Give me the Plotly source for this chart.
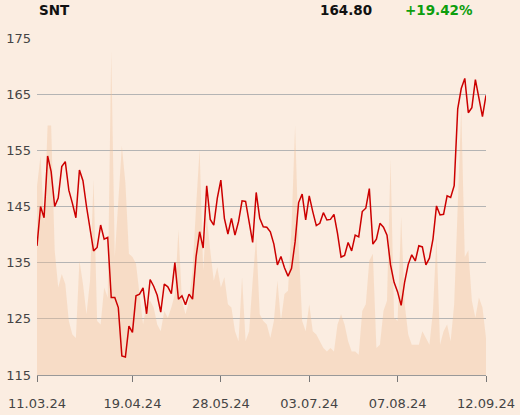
import pandas as pd
import plotly.graph_objects as go

# Warsaw trading days 11.03.24 - 12.09.24
holidays = ['2024-03-29', '2024-04-01', '2024-05-01', '2024-05-03', '2024-05-30', '2024-08-15']
days = pd.bdate_range('2024-03-11', '2024-09-12', freq='C', holidays=holidays)
dates = [d.strftime('%Y-%m-%d') for d in days]

price = [
    138.0, 145.0, 143.0, 154.0, 151.2, 145.0, 146.5, 152.1, 153.0, 147.9,
    145.6, 143.0, 151.5, 149.6, 145.0, 140.8, 137.1, 137.7, 141.7, 139.2,
    139.5, 128.8, 128.8, 127.0, 118.4, 118.2, 123.7, 122.6, 129.1, 129.4,
    130.5, 125.9, 132.0, 130.8, 129.2, 126.2, 131.2, 130.7, 129.5, 135.0,
    128.5, 129.1, 127.5, 129.4, 128.5, 136.1, 140.5, 137.6, 148.7, 142.7,
    141.7, 146.5, 149.7, 142.9, 140.1, 142.9, 139.9, 142.3, 146.0, 145.9,
    142.6, 138.6, 147.5, 142.9, 141.4, 141.3, 140.5, 138.3, 134.6, 136.1,
    134.1, 132.6, 134.0, 138.7, 145.7, 147.2, 142.6, 146.9, 144.1, 141.6,
    142.0, 143.9, 142.6, 142.7, 143.6, 140.2, 136.0, 136.3, 138.6, 137.1,
    139.9, 139.6, 144.1, 144.7, 148.2, 138.3, 139.2, 142.0, 141.3, 139.9,
    134.6, 131.5, 129.8, 127.4, 131.6, 134.7, 136.4, 135.3, 138.0, 137.8,
    134.6, 135.8, 139.2, 145.1, 143.5, 143.6, 146.9, 146.6, 148.7, 162.4,
    166.0, 167.8, 161.7, 162.6, 167.6, 164.4, 161.0, 164.8,
]

# relative traded volume (arbitrary units)
volume = [
    56, 65, 45, 74, 74, 37, 26, 30, 27, 16,
    12, 11, 34, 27, 18, 28, 58, 16, 15, 26,
    23, 96, 35, 52, 68, 57, 36, 35, 33, 24,
    15, 21, 22, 20, 15, 13, 19, 17, 20, 24,
    43, 22, 18, 22, 31, 50, 67, 31, 47, 37,
    28, 32, 26, 29, 21, 20, 13, 10, 29, 10,
    13, 28, 41, 18, 16, 15, 11, 16, 28, 16,
    24, 25, 44, 74, 39, 16, 13, 21, 13, 12,
    10, 8, 7, 8, 7, 15, 18, 15, 10, 7,
    7, 6, 19, 21, 34, 36, 8, 9, 19, 22,
    64, 17, 16, 47, 21, 12, 9, 9, 9, 13,
    11, 9, 19, 41, 9, 13, 15, 10, 21, 53,
    79, 35, 37, 22, 17, 23, 20, 11,
]

assert len(dates) == len(price) == len(volume)

tick_dates = ['2024-03-11', '2024-04-19', '2024-05-28', '2024-07-03', '2024-08-07', '2024-09-12']
tick_labels = ['11.03.24', '19.04.24', '28.05.24', '03.07.24', '07.08.24', '12.09.24']
price_ticks = [115, 125, 135, 145, 155, 165, 175]

symbol = 'SNT'
change = (price[-1] / price[0] - 1) * 100

bg = '#fbede1'
font = 'DejaVu Sans'

fig = go.Figure()
fig.add_trace(
    go.Scatter(
        x=dates, y=volume, yaxis='y',
        mode='lines', line=dict(width=0),
        fill='tozeroy', fillcolor='rgba(240,190,150,0.36)',
        hoverinfo='skip'
    )
)
fig.add_trace(
    go.Scatter(
        x=dates, y=price, yaxis='y2',
        mode='lines', line=dict(color='#cc0000', width=1.5)
    )
)

fig.update_layout(
    width=520,
    height=415,
    margin=dict(l=37, r=34, t=38, b=40),
    paper_bgcolor=bg,
    plot_bgcolor=bg,
    showlegend=False,
    font=dict(family=font, size=13, color='#444444'),
    xaxis=dict(
        type='category',
        range=[0, len(dates) - 1],
        tickvals=tick_dates,
        ticktext=tick_labels,
        showgrid=False,
        showline=True,
        linecolor='#999999',
        ticks='outside',
        ticklen=6,
        tickcolor='#777777',
        ticklabelstandoff=10,
        tickfont=dict(size=13, color='#444444'),
        automargin=False,
    ),
    yaxis=dict(range=[0, 100], visible=False, fixedrange=True, automargin=False),
    yaxis2=dict(
        overlaying='y',
        side='left',
        range=[115, 175],
        tickvals=price_ticks,
        showgrid=True,
        gridcolor='#b4b4b4',
        gridwidth=1,
        zeroline=False,
        ticks='',
        ticklabelstandoff=5,
        tickfont=dict(size=13, color='#444444'),
        automargin=False,
    ),
    annotations=[
        dict(xref='paper', yref='paper', x=0, y=1.083, xanchor='left', yanchor='middle',
             text='<b>%s</b>' % symbol, showarrow=False,
             font=dict(family=font, size=13.5, color='#111111')),
        dict(xref='paper', yref='paper', x=0.7506, y=1.083, xanchor='right', yanchor='middle',
             text='<b>%.2f</b>' % price[-1], showarrow=False,
             font=dict(family=font, size=13.5, color='#111111')),
        dict(xref='paper', yref='paper', x=0.9755, y=1.083, xanchor='right', yanchor='middle',
             text='<b>%+.2f%%</b>' % change, showarrow=False,
             font=dict(family=font, size=13.5, color='#0d9e0d')),
    ],
)

fig.write_html("out.html", config={'displayModeBar': False},
               post_script="document.body.style.margin='0';")
